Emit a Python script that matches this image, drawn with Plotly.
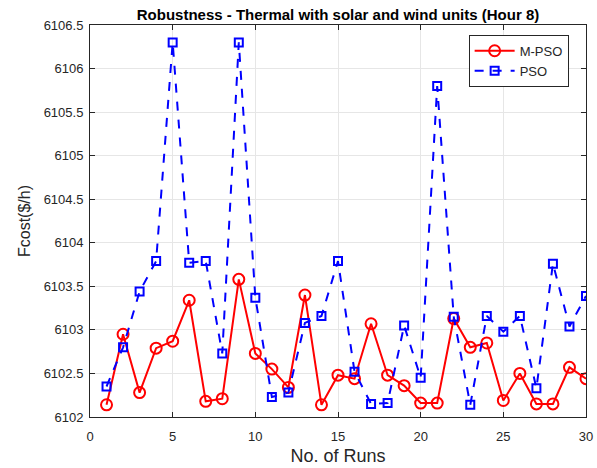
import plotly.graph_objects as go

runs = list(range(1, 31))
mpso = [6102.14, 6102.95, 6102.28, 6102.79, 6102.87, 6103.34, 6102.18, 6102.21, 6103.58, 6102.73,
        6102.55, 6102.34, 6103.40, 6102.14, 6102.48, 6102.44, 6103.07, 6102.48, 6102.36, 6102.16,
        6102.16, 6103.13, 6102.80, 6102.85, 6102.19, 6102.50, 6102.15, 6102.15, 6102.57, 6102.44]
pso = [6102.35, 6102.80, 6103.44, 6103.79, 6106.30, 6103.77, 6103.79, 6102.73, 6106.30, 6103.37,
       6102.23, 6102.28, 6103.08, 6103.16, 6103.79, 6102.52, 6102.15, 6102.16, 6103.05, 6102.45,
       6105.80, 6103.15, 6102.14, 6103.16, 6102.98, 6103.16, 6102.33, 6103.76, 6103.04, 6103.39]

fig = go.Figure()
fig.add_trace(go.Scatter(x=runs, y=mpso, name="M-PSO", mode="lines+markers",
                         line=dict(color="#ff0000", width=2),
                         marker=dict(symbol="circle-open", size=11, color="#ff0000", line=dict(width=2))))
fig.add_trace(go.Scatter(x=runs, y=pso, name="PSO", mode="lines+markers",
                         line=dict(color="#0000ff", width=2, dash="dash"),
                         marker=dict(symbol="square-open", size=8, color="#0000ff", line=dict(width=2))))

axis_common = dict(showline=True, linecolor="#262626", linewidth=1, mirror="ticks",
                   ticks="inside", ticklen=5, tickcolor="#262626",
                   showgrid=True, gridcolor="#e6e6e6", gridwidth=1, zeroline=False,
                   automargin=False,
                   tickfont=dict(family="Arial", size=13, color="#262626"))

fig.update_layout(
    width=597, height=468,
    margin=dict(l=90, r=11, t=25, b=51),
    paper_bgcolor="white", plot_bgcolor="white",
    title=dict(text="<b>Robustness - Thermal with solar and wind units (Hour 8)</b>",
               x=0.5, xref="paper", xanchor="center", y=1 - 15 / 468, yanchor="middle",
               font=dict(family="Arial", size=15, color="black")),
    xaxis=dict(range=[0, 30], dtick=5, tickformat="d", ticklabelstandoff=7, **axis_common,
               title=dict(text="No. of Runs", font=dict(family="Arial", size=18, color="#262626"), standoff=6)),
    yaxis=dict(range=[6102, 6106.5], dtick=0.5, tickformat=".1~f", ticklabelstandoff=3, **axis_common,
               title=dict(text="Fcost($/h)", font=dict(family="Arial", size=16, color="#262626"), standoff=9)),
    legend=dict(x=0.965, y=0.975, xanchor="right", yanchor="top",
                bordercolor="#262626", borderwidth=1, bgcolor="white",
                font=dict(family="Arial", size=13, color="#262626"),
                tracegroupgap=0, itemwidth=40),
    showlegend=True,
)

fig.write_html("out.html")
